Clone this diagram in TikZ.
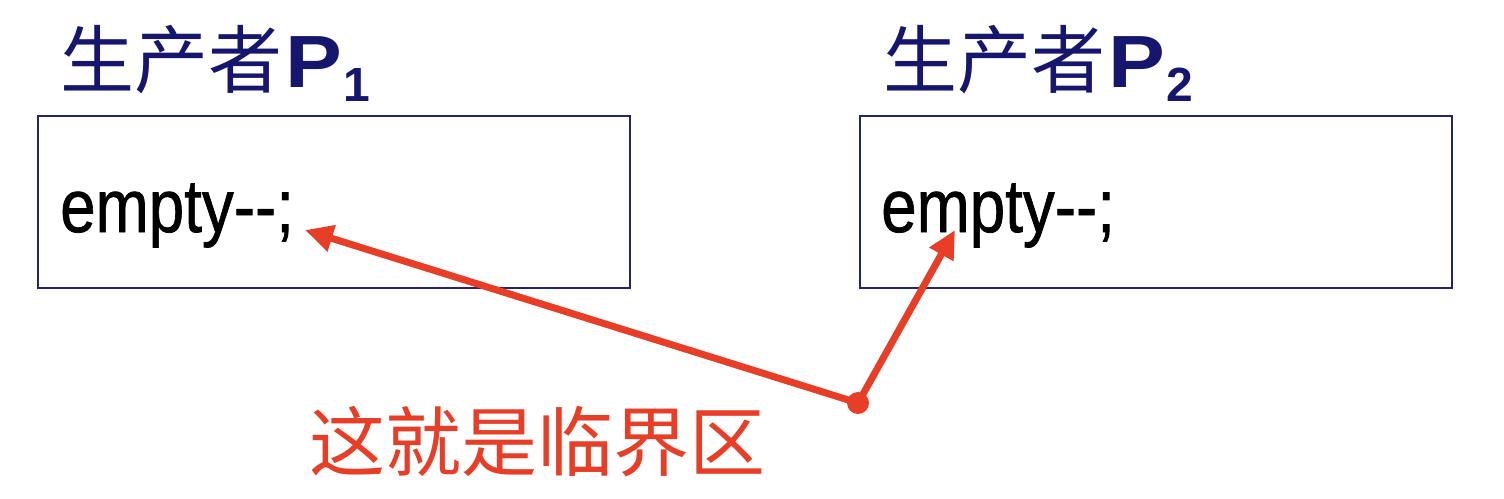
\documentclass[tikz,border=0pt]{standalone}
\usepackage{fontspec}
\usetikzlibrary{arrows.meta}
\setmainfont{Liberation Sans}
\newfontfamily\cjk{Noto Sans CJK SC}
\newfontfamily\codefont[FakeBold=1]{Liberation Sans}
\definecolor{navy}{RGB}{22,22,110}
\definecolor{boxc}{RGB}{36,36,104}
\definecolor{redc}{RGB}{232,62,40}
\newcommand\pname[1]{\hspace{3pt}{\bfseries\scalebox{1.15}[1]{P}}\hspace{2pt}\raisebox{-14pt}{\fontsize{48}{48}\selectfont\bfseries #1}}
\tikzset{
  titletext/.style={anchor=base west, inner sep=0pt, text=navy, font=\fontsize{74}{74}\selectfont},
  codebox/.style={draw=boxc, line width=1.5pt, minimum width=592pt, minimum height=172pt, inner sep=0pt},
  codetext/.style={anchor=base west, inner sep=0pt, text=black, font=\fontsize{75}{75}\selectfont\codefont},
  reddot/.style={circle, fill=redc, minimum size=22pt, inner sep=0pt},
  redarrow/.style={draw=redc, line width=7pt, -{Triangle[length=28pt,width=26pt]}},
  labeltext/.style={anchor=base west, inner sep=0pt, text=redc, font=\fontsize{76}{76}\selectfont\cjk}
}
\begin{document}
\begin{tikzpicture}[x=1pt,y=-1pt]
\useasboundingbox[fill=white] (0,0) rectangle (1504,498);
% titles
\node[titletext] (t1) at (60,87) {{\cjk 生产者}\pname{1}};
\node[titletext] (t2) at (883,87) {{\cjk 生产者}\pname{2}};
% boxes
\node[codebox] (b1) at (334,202) {};
\node[codebox] (b2) at (1156,202) {};
% code text
\node[codetext] (c1) at (60,232) {\scalebox{0.85}[1]{empty-{}-;}};
\node[codetext] (c2) at (881,232) {\scalebox{0.85}[1]{empty-{}-;}};
% arrows
\coordinate (a1) at (305,230);
\coordinate (a2) at (955,230);
\node[reddot] (dot) at (858,403) {};
\draw[redarrow] (dot.center) -- (a1);
\draw[redarrow] (dot.center) -- (a2);
% label
\node[labeltext] (lbl) at (309,470) {这就是临界区};
\end{tikzpicture}
\end{document}
